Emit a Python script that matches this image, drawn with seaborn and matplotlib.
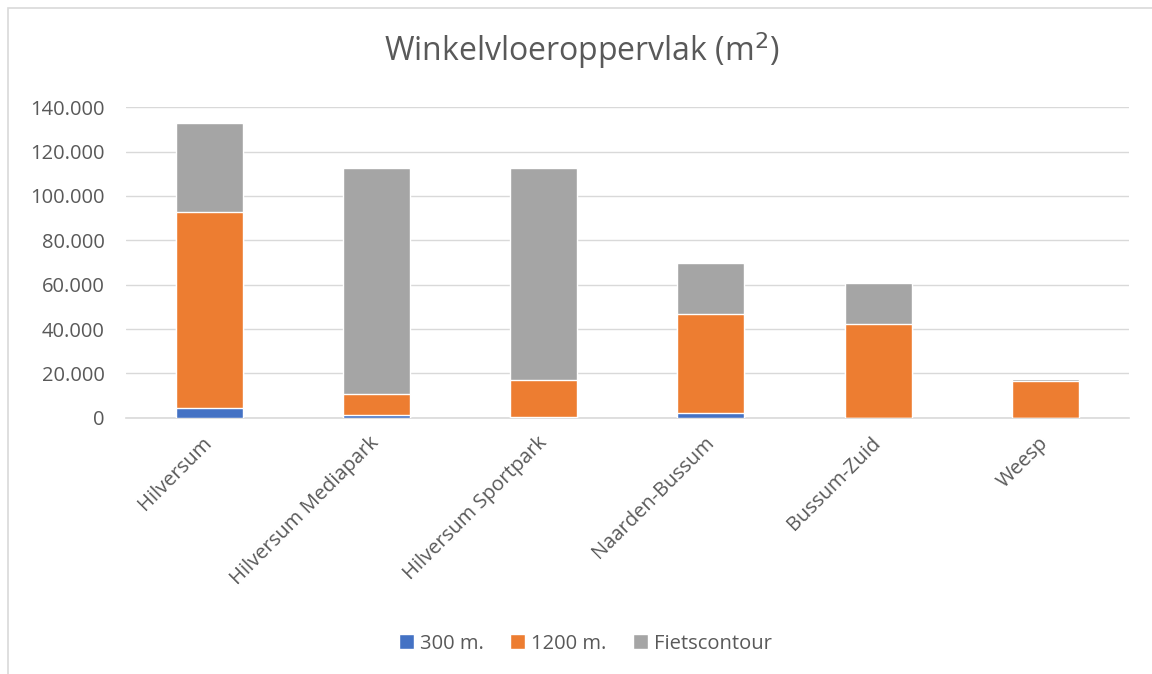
import pandas as pd
import matplotlib.pyplot as plt
import seaborn as sns
from matplotlib.ticker import FuncFormatter
from matplotlib.patches import Rectangle

locaties = ['Hilversum', 'Hilversum Mediapark', 'Hilversum Sportpark',
            'Naarden-Bussum', 'Bussum-Zuid', 'Weesp']
m300 = [4500, 1300, 200, 2000, 100, 100]
m1200 = [88200, 9500, 17000, 45000, 42200, 16600]
fiets = [40300, 101700, 95300, 22800, 18500, 700]

df = pd.DataFrame({'locatie': locaties, 'm300': m300, 'm1200': m1200, 'fiets': fiets})
# cumulative tops for stacking
df['top_300'] = df['m300']
df['top_1200'] = df['m300'] + df['m1200']
df['top_fiets'] = df['top_1200'] + df['fiets']

sns.set_theme(style='white')
plt.rcParams['font.family'] = ['Open Sans', 'DejaVu Sans']

fig = plt.figure(figsize=(11.52, 6.74), dpi=100)
ax = fig.add_axes([0.109, 0.380, 0.871, 0.461])

tekst = '#595959'
sns.barplot(data=df, x='locatie', y='top_fiets', color='#a5a5a5', width=0.4,
            saturation=1, ax=ax, label='Fietscontour', zorder=2)
sns.barplot(data=df, x='locatie', y='top_1200', color='#ed7d31', width=0.4,
            saturation=1, ax=ax, label='1200 m.', zorder=3)
sns.barplot(data=df, x='locatie', y='top_300', color='#4472c4', width=0.4,
            saturation=1, ax=ax, label='300 m.', zorder=4)

ax.set_ylim(0, 140000)
ax.set_yticks(range(0, 140001, 20000))
ax.yaxis.set_major_formatter(FuncFormatter(lambda v, p: f'{int(v):,}'.replace(',', '.')))
ax.grid(axis='y', color='#d9d9d9', linewidth=1, zorder=0)
ax.set_axisbelow(True)
for s in ['top', 'right', 'left']:
    ax.spines[s].set_visible(False)
ax.spines['bottom'].set_color('#d9d9d9')
ax.spines['bottom'].set_linewidth(1.2)
ax.tick_params(length=0, colors=tekst, labelsize=14.5)
ax.tick_params(axis='y', pad=15)
ax.tick_params(axis='x', pad=16)
plt.setp(ax.get_xticklabels(), rotation=45, ha='right', va='center', rotation_mode='anchor')
ax.set_xlabel('')
ax.set_ylabel('')

fig.text(0.505, 0.925, 'Winkelvloeroppervlak (m$^2$)', ha='center', va='center',
         fontsize=23, color=tekst)

handles, labels = ax.get_legend_handles_labels()
order = [labels.index(l) for l in ['300 m.', '1200 m.', 'Fietscontour']]
fig.legend([handles[i] for i in order], [labels[i] for i in order],
           loc='center', bbox_to_anchor=(0.508, 0.045), ncol=3, frameon=False,
           fontsize=14.5, handlelength=0.75, handleheight=0.75, handletextpad=0.3,
           columnspacing=1.3, labelcolor=tekst)
if ax.get_legend():
    ax.get_legend().remove()

fig.patches.append(Rectangle((0.007, -0.01), 1.2, 0.998, transform=fig.transFigure,
                             fill=False, edgecolor='#d9d9d9', linewidth=1.2))

fig.savefig('out.png', dpi=100)
